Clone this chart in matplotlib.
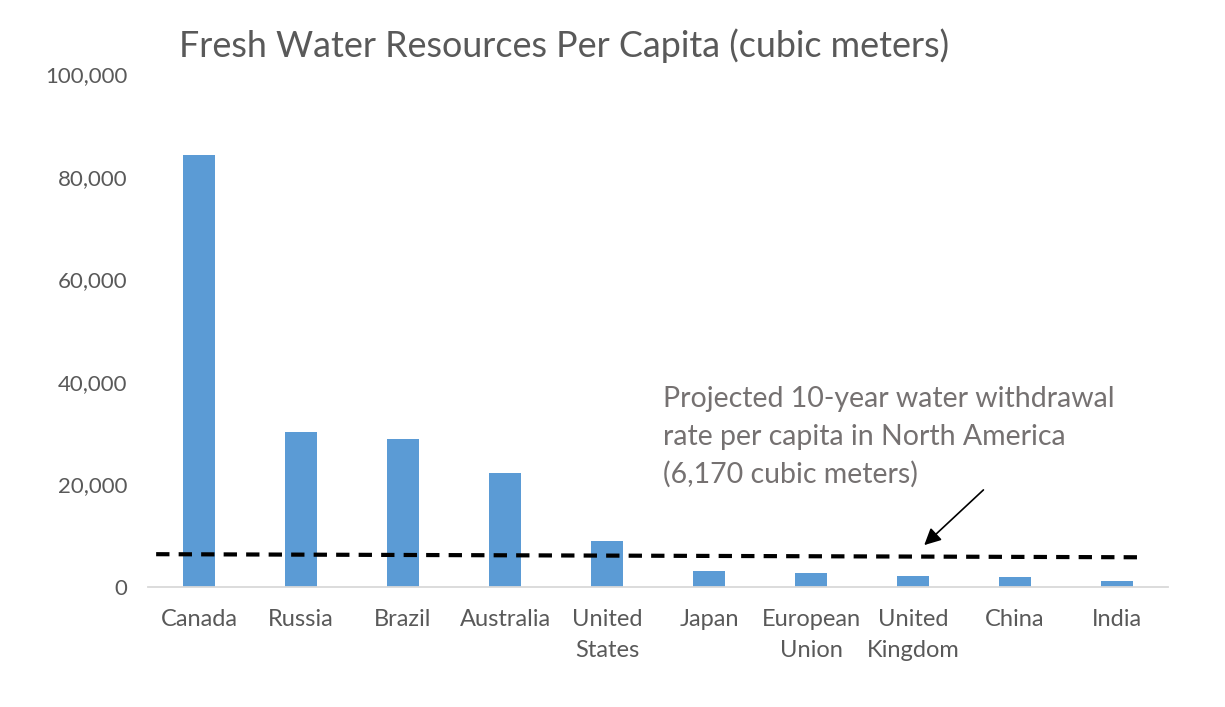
import numpy as np
import matplotlib.pyplot as plt

countries = ["Canada", "Russia", "Brazil", "Australia", "United\nStates", "Japan",
             "European\nUnion", "United\nKingdom", "China", "India"]
water_per_capita = [84300, 30200, 28900, 22200, 9000, 3100, 2700, 2200, 1950, 1150]

# dashed withdrawal line, as drawn in the original (slightly tilted)
line_x = [-0.42, 9.2]
line_y = [6400, 5800]

yticks = [0, 20000, 40000, 60000, 80000, 100000]

plt.rcParams['font.family'] = ['Lato', 'DejaVu Sans']

fig = plt.figure(figsize=(12.25, 7.07), dpi=100)
ax = fig.add_axes([0.1208, 0.1697, 0.8327, 0.7256])

x = np.arange(len(countries))
ax.bar(x, water_per_capita, width=0.31, color="#5B9BD5", zorder=2)
ax.plot(line_x, line_y, color="black", linestyle=(0, (3.2, 2.2)), linewidth=3, zorder=3)

ax.set_xlim(-0.5, len(countries) - 0.5)
ax.set_ylim(0, 100000)
ax.set_yticks(yticks)
ax.set_yticklabels(["{:,}".format(v) for v in yticks], fontsize=16)
ax.set_xticks(x)
ax.set_xticklabels(countries, linespacing=1.55, fontsize=17)
ax.tick_params(axis='both', length=0, colors="#595959")
ax.tick_params(axis='y', pad=15)
ax.tick_params(axis='x', pad=16)

for s in ["top", "right", "left"]:
    ax.spines[s].set_visible(False)
ax.spines["bottom"].set_color("#D9D9D9")
ax.spines["bottom"].set_linewidth(1.3)

ax.annotate("", xy=(7.09, 7800), xytext=(7.71, 19300),
            arrowprops=dict(arrowstyle="-|>", color="black", lw=1.2, mutation_scale=25),
            zorder=4)
ax.text(4.55, 39100, "Projected 10-year water withdrawal\nrate per capita in North America\n(6,170 cubic meters)",
        fontsize=20.5, color="#757171", ha="left", va="top", linespacing=1.53)

fig.text(0.146, 0.935, "Fresh Water Resources Per Capita (cubic meters)",
         fontsize=25.8, color="#595959", ha="left", va="center")

fig.savefig("out.png", dpi=100, facecolor="white")
